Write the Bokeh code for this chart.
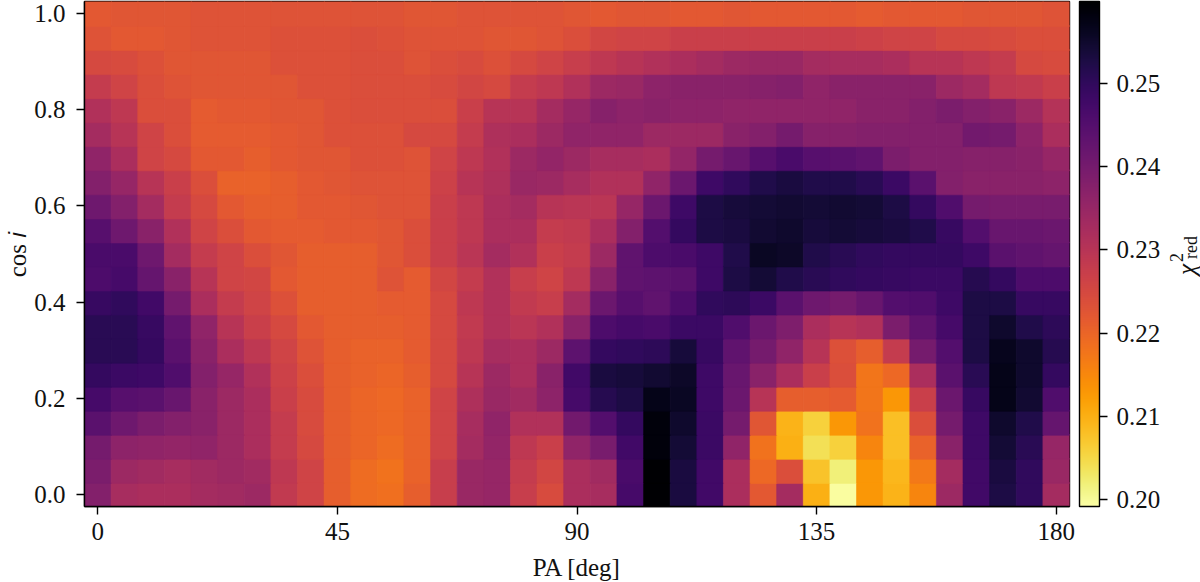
import math
import numpy as np
from bokeh.embed import file_html
from bokeh.resources import INLINE
from bokeh.plotting import figure
from bokeh.layouts import row
from bokeh.core.properties import value
from bokeh.models import (ColumnDataSource, LinearColorMapper, ColorBar, FixedTicker,
                          PrintfTickFormatter)
from bokeh.palettes import Inferno256
from bokeh.transform import transform

# reduced chi^2 in units of 0.001, one list per cos i (PA = 0, 5, ... 180 deg)
row_100 = [222,222.5,222.5,222.5,223,223,223,223,223,223,223,223, 222.5,222.5,223,223,223,223,222.5,222,222.5,222.5,222,222,222.5,222,222, 222,222,221.5,222,222,222,222.5,222.5,222.5,223]
row_095 = [223,222,222,222.5,223,223,223,223.5,223.5,223.5,224,223.5, 223,223,223,222.5,222.5,223,224,225.5,226,226,227,227,227,227,227, 227,227,226.5,226,226,225,225,224.5,224,224]
row_090 = [225,224.5,223.5,222.5,222.5,222.5,222.5,223.5,223.5,223.5,224,224, 223,224,224.5,223.5,225,226,227.5,229,230,231,232,233,234,234.5,234.5, 233,232.5,232.5,232,230,230,229,228,225,224.5]
row_085 = [228,226,224,223,222.5,222.5,222.5,222.5,223.5,223.5,224,224, 224,224.5,225.5,225,228,229,231,234,234.5,236.5,237,237,237,237.5,238, 236,237,237,237,237,234,233,229,228.5,227]
row_080 = [231,229,224,224,221.5,222,222,222.5,222.5,223.5,224,224, 224,224,227,230,230,233,235,237.5,236.5,237,236.5,236.5,236,236,236, 236,236,237,237,238,239,238,237,234,230.5]
row_075 = [233,230,226,224,221.5,221.5,221.5,222,222.5,223.5,223.5,223.5, 225,225,228,231.5,232,234,236,236,236,234,234,234,237,238,240, 237.5,237.5,238,238,238,238,240.5,240,236.5,232]
row_070 = [236,232,226,225,222,222,221,222,222.5,222.5,223.5,223.5, 223,226,229,231,234,235.5,234,232.5,232.5,232,235.5,240,242,244.5,246.5, 244.5,244,243,239,238,238,237.5,237.5,237,235]
row_065 = [238,235,230,227,224,220.5,220.5,221,222,222.5,223,223, 223,226.5,230,231.5,234.5,234,232.5,231,231,236,241.5,248,250,252,253, 252,252,251,248.5,244,238,237,237,237,236.5]
row_060 = [241,238,233,228,225,222,221,221,222,222,222.5,223, 223,227,229,232,233,230,229.5,229.5,235,241.5,248,252.5,253.5,254,254.5, 254,254.5,254,252.5,249.5,245.5,240,239.5,239.5,239.5]
row_055 = [244.5,241,237,231,226,224,222,221.5,221.5,222,222,222.5, 224,227,229,232,232,228,228.5,232,238,245,249.5,252.5,253,254.5,255, 253.5,254,253.5,253,252,249,245,242,242,241.5]
row_050 = [246.5,246.5,241,233,228,226,224,222.5,221,221,221,222.5, 224,227,229.5,233,231,227,228,234,243,246,246.5,248,252,256,255.5, 252,251,250,249.5,249.5,249.5,248,244,243,242.5]
row_045 = [246,247,242.5,237,230,226,225.5,222,221,221,221,223, 221.5,225.5,228,231,227.5,226,229,237,243,243.5,244,248,252.5,254,252, 251,250,249.5,249,248.5,248.5,251.5,249.5,246,246]
row_040 = [249,250,247.5,240,232,228,226,223.5,221,221,221,221.5, 221.5,225,229,231,228.5,227.5,233,241.5,244.5,243,246,250,250.5,248.5,244, 241,240,242,245,245.5,248,252.5,252.5,249,249]
row_035 = [251,251,249,243,236,230,227,225,222,221,221,221, 221.5,225,228.5,231,229.5,231,237,246,247,246.5,248.5,248.5,245.5,241.5,238.5, 232,230,231,239,243,247,252.5,255,252,250.5]
row_030 = [251,251,249.5,244,237,232,229,226,223,221,220.5,220.5, 221.5,225,229,232.5,232,234,243.5,249.5,250,250.5,253.5,249,243,240,236, 230,223.5,221,228,240,245,252.5,256.5,255,251.5]
row_025 = [249.5,248.5,248,245.5,238,235,231,226.5,224,221,220.5,220, 221,225,230,234,232,237,247.5,253,253.5,254.5,255.5,248,242,237,232, 227,224,217.5,219.5,232,244,251,257,255,249.5]
row_020 = [247,244.5,244,242,237,234,232,227,224.5,221,220,219.5, 220.5,226,231.5,234.5,233.5,236.5,247,251.5,252.5,257,256,248,241.5,230,221, 221,221.5,217.5,213,227,241.5,249,257,254.5,245.5]
row_015 = [244,241,239,238,237,234,232,228,224.5,221,220,219.5, 220.5,226,232.5,236,231,231,240.5,245,249.5,258.5,255,248.5,240,222.5,209.5, 206,213,218,208,224,240,248,255,252,242.5]
row_010 = [240,236.5,236,235.5,236,234,232,228,225,221,220,219, 220.5,226,233,235.5,229,227,236,239.5,247.5,258.5,254,248.5,236,218,210, 204,206,215.5,208,220.5,237,248,254,251,235]
row_005 = [239,234,233.5,232.5,233.5,234,233.5,229,226,221,219,218, 220.5,227.5,234.5,235,228,225.5,232,233.5,246.5,259.8,253,247.5,232,219.5,224, 207.5,202,213,209,217,233,247.5,253,250,234.5]
row_000 = [238,232.5,232,232,233,233.5,234,228.5,226,221,219,218.5, 221,227.5,234.5,235,227.5,224.5,232,232.5,247,259.8,253,247.5,232,222,233, 210,199.5,213,209.5,215.5,234,247.5,252.5,250,233]

pa_values = [5 * k for k in range(37)]
cosi_values = [0.05 * j for j in range(21)]
x_ticks = [0, 45, 90, 135, 180]
y_ticks = [0.0, 0.2, 0.4, 0.6, 0.8, 1.0]
cb_ticks = [0.20, 0.21, 0.22, 0.23, 0.24, 0.25]
cb_label_parts = ["\u03c7", "2", "red"]

rows = [row_000, row_005, row_010, row_015, row_020, row_025, row_030, row_035, row_040, row_045,
        row_050, row_055, row_060, row_065, row_070, row_075, row_080, row_085, row_090, row_095, row_100]
chi2 = np.array(rows) / 1000.0
xx, yy = np.meshgrid(pa_values, cosi_values)
src = ColumnDataSource(dict(x=xx.ravel(), y=yy.ravel(), v=chi2.ravel()))

FONT = "Liberation Serif"
mapper = LinearColorMapper(palette=Inferno256[::-1], low=0.1992, high=0.2598)

p = figure(frame_width=985, frame_height=505, x_range=(-2.5, 182.5), y_range=(-0.025, 1.025),
           output_backend="svg", toolbar_location=None,
           min_border_left=84, min_border_top=1, min_border_bottom=76, min_border_right=0,
           outline_line_color="black", outline_line_width=1.4, background_fill_color="white",
           x_axis_label="PA [deg]", y_axis_label="cos \U0001D456")
p.grid.visible = False
p.rect("x", "y", width=5, height=0.05, source=src, dilate=True,
       fill_color=transform("v", mapper), line_color=transform("v", mapper), line_width=0.6)

for ax in (p.xaxis[0], p.yaxis[0]):
    ax.major_label_text_font = FONT
    ax.major_label_text_font_size = "25px"
    ax.major_label_text_color = "#111111"
    ax.axis_label_text_font = FONT
    ax.axis_label_text_font_size = "25px"
    ax.axis_label_text_font_style = "normal"
    ax.axis_label_text_color = "#111111"
    ax.major_tick_in = 0
    ax.major_tick_out = 8
    ax.major_tick_line_width = 1.4
    ax.minor_tick_line_color = None
    ax.axis_line_color = "black"
    ax.axis_line_width = 1.4
p.xaxis[0].ticker = FixedTicker(ticks=x_ticks)
p.yaxis[0].ticker = FixedTicker(ticks=y_ticks)
p.yaxis[0].formatter = PrintfTickFormatter(format="%.1f")
p.yaxis[0].major_label_orientation = "horizontal"
p.xaxis[0].major_label_standoff = 8
p.yaxis[0].major_label_standoff = 11
p.xaxis[0].axis_label_standoff = 11
p.yaxis[0].axis_label_standoff = 0

cb = ColorBar(color_mapper=mapper, ticker=FixedTicker(ticks=cb_ticks),
              formatter=PrintfTickFormatter(format="%.2f"),
              width=20, height=505, padding=9, margin=0, location=(1, -9),
              background_fill_alpha=0, border_line_color=None,
              major_tick_in=0, major_tick_out=8, major_tick_line_color="black", major_tick_line_width=1.4,
              minor_tick_line_color=None, bar_line_color="black", bar_line_width=1.4,
              major_label_text_font=FONT, major_label_text_font_size="25px",
              major_label_text_color="#111111", label_standoff=9)
p.add_layout(cb, "right")

# narrow strip beside the colour bar that carries its rotated label
q = figure(frame_width=36, frame_height=582, x_range=(0, 36), y_range=(582, 0),
           output_backend="svg", toolbar_location=None, outline_line_color=None,
           background_fill_alpha=0, border_fill_alpha=0,
           min_border=0, x_axis_location=None, y_axis_location=None)
q.margin = (0, 0, 0, -8)
q.grid.visible = False
q.text(x=[22], y=[268], text=[cb_label_parts[0]], angle=math.pi / 2, text_font=value(FONT),
       text_font_size="25px", text_font_style="italic", text_color="#111111",
       text_align="center", text_baseline="middle")
q.text(x=[12], y=[256], text=[cb_label_parts[1]], angle=math.pi / 2, text_font=value(FONT),
       text_font_size="18px", text_color="#111111", text_align="center", text_baseline="middle")
q.text(x=[26], y=[246], text=[cb_label_parts[2]], angle=math.pi / 2, text_font=value(FONT),
       text_font_size="18px", text_color="#111111", text_align="center", text_baseline="middle")

layout = row(p, q, spacing=0)
open("out.html", "w").write(file_html(layout, INLINE))
